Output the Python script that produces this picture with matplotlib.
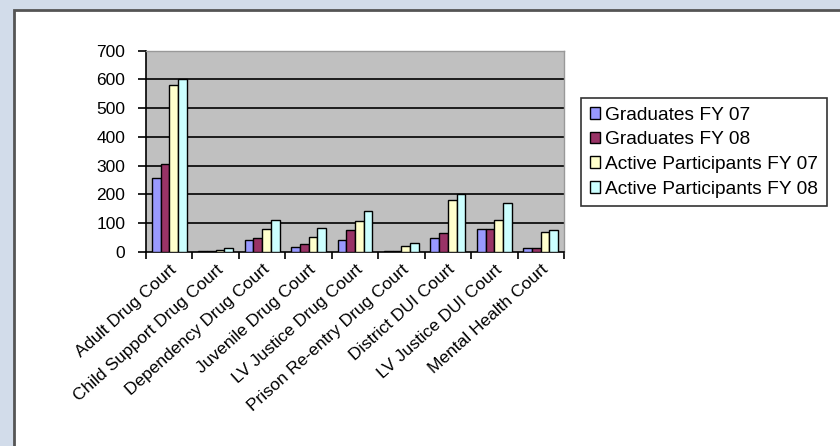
import matplotlib
matplotlib.use("Agg")
import matplotlib.pyplot as plt
import numpy as np
from matplotlib.patches import Rectangle

categories = ["Adult Drug Court", "Child Support Drug Court", "Dependency Drug Court",
              "Juvenile Drug Court", "LV Justice Drug Court", "Prison Re-entry Drug Court",
              "District DUI Court", "LV Justice DUI Court", "Mental Health Court"]
series_names = ["Graduates FY 07", "Graduates FY 08",
                "Active Participants FY 07", "Active Participants FY 08"]
grad_fy07 = [258, 2, 40, 17, 43, 5, 47, 80, 13]
grad_fy08 = [306, 2, 48, 27, 75, 5, 65, 80, 15]
active_fy07 = [580, 8, 80, 52, 108, 20, 180, 110, 70]
active_fy08 = [600, 15, 110, 83, 143, 30, 202, 170, 75]
yticks = [0, 100, 200, 300, 400, 500, 600, 700]

colors = ["#9999FF", "#993366", "#FFFFCC", "#CCFFFF"]
series = [grad_fy07, grad_fy08, active_fy07, active_fy08]

plt.rcParams['font.family'] = ['Liberation Sans', 'DejaVu Sans']

fig = plt.figure(figsize=(8.4, 4.46), dpi=100)
fig.patch.set_facecolor("#d2dcea")
# white panel
fig.patches.append(Rectangle((14/840, -0.05), 1.0, 1 - 10/446 + 0.05,
                             transform=fig.transFigure, facecolor="white",
                             edgecolor="#555555", linewidth=2.0, zorder=-10))

ax = fig.add_axes([146/840, 1 - 252/446, (564 - 146)/840, (252 - 50.7)/446])
ax.set_zorder(5)
ax.set_facecolor("#C0C0C0")

n = len(categories)
x = np.arange(n)
w = 0.1875
for i, (vals, c, name) in enumerate(zip(series, colors, series_names)):
    ax.bar(x - 0.375 + w * (i + 0.5), vals, width=w, color=c, edgecolor="black",
           linewidth=1.0, label=name, zorder=3)

ax.set_xlim(-0.5, n - 0.5)
ax.set_ylim(0, 700)
ax.set_yticks(yticks)
ax.set_yticklabels([str(v) for v in yticks], fontsize=12.5)
for v in yticks[1:-1]:
    ax.axhline(v, color="black", linewidth=1.2, zorder=1)

ax.set_xticks(np.arange(n + 1) - 0.5, minor=False)
ax.set_xticklabels([])
ax.set_xticks(x, minor=True)
ax.set_xticklabels(categories, minor=True, rotation=42, ha="right",
                   rotation_mode="anchor", fontsize=12.5)
ax.tick_params(axis="x", which="minor", length=0, pad=7)
ax.tick_params(axis="x", which="major", length=5, width=1.2, direction="out")
ax.tick_params(axis="y", length=6, width=1.2, direction="out", pad=9)

for s in ["top", "right"]:
    ax.spines[s].set_color("#999999")
    ax.spines[s].set_linewidth(1.0)
for s in ["left", "bottom"]:
    ax.spines[s].set_color("black")
    ax.spines[s].set_linewidth(1.2)

leg = ax.legend(loc="upper left", bbox_to_anchor=(581/840, 1 - 98/446),
                bbox_transform=fig.transFigure, fontsize=13.8, frameon=True,
                fancybox=False, edgecolor="black", handlelength=0.55,
                handleheight=0.55, handletextpad=0.25, labelspacing=0.4,
                borderpad=0.45, borderaxespad=0)
leg.get_frame().set_linewidth(1.2)

fig.savefig("out.png", dpi=100, facecolor=fig.get_facecolor())
